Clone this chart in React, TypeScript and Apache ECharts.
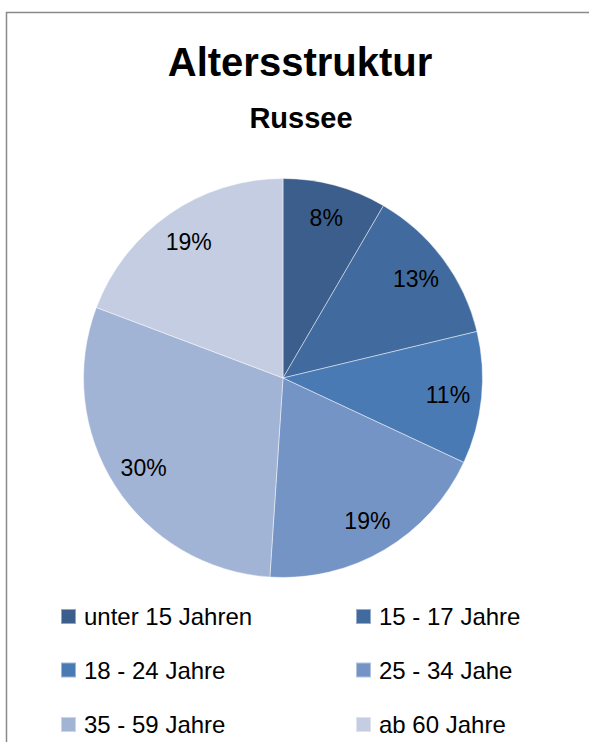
import React, { useEffect, useRef } from "react";
import * as echarts from "echarts";

const titleText = "Altersstruktur";
const subtitleText = "Russee";
const categories = [
  "unter 15 Jahren",
  "15 - 17 Jahre",
  "18 - 24 Jahre",
  "25 - 34 Jahe",
  "35 - 59 Jahre",
  "ab 60 Jahre",
];
const values = [8.4, 12.85, 10.7, 19.1, 29.7, 19.25];
const colors = ["#3B5E8C", "#416B9E", "#4A7AB4", "#7594C6", "#A2B4D5", "#C4CDE2"];

const FONT = '"Liberation Sans", Arial, sans-serif';

export default function App() {
  const ref = useRef<HTMLDivElement>(null);
  useEffect(() => {
    if (!ref.current) return;
    const chart = echarts.init(ref.current, undefined, { renderer: "svg" });
    const data = categories.map((name, i) => ({
      name,
      value: values[i],
      itemStyle: { color: colors[i] },
    }));
    const colLeft = [60, 355];
    const rowCenter = [616.5, 670, 724.5];
    const legends = categories.map((name, i) => ({
      orient: "horizontal" as const,
      left: colLeft[i % 2],
      top: rowCenter[Math.floor(i / 2)] - 12,
      padding: 0,
      itemWidth: 15,
      itemHeight: 15,
      icon: "rect",
      selectedMode: false,
      data: [name],
      textStyle: {
        fontFamily: FONT,
        fontSize: 24,
        color: "#000",
        lineHeight: 24,
        padding: [0, 0, 0, 3],
      },
    }));
    chart.setOption({
      animation: false,
      backgroundColor: "#fff",
      graphic: [
        {
          type: "rect",
          shape: { x: 6.5, y: 12.5, width: 800, height: 900 },
          style: { fill: "none", stroke: "#8a8a8a", lineWidth: 1.5 },
          silent: true,
        },
        {
          type: "text",
          x: 300,
          y: 62,
          style: {
            text: titleText,
            font: `bold 40px ${FONT}`,
            textAlign: "center",
            textVerticalAlign: "middle",
            align: "center",
            verticalAlign: "middle",
            fill: "#000",
          },
        },
        {
          type: "text",
          x: 301,
          y: 117.5,
          style: {
            text: subtitleText,
            font: `bold 29px ${FONT}`,
            textAlign: "center",
            textVerticalAlign: "middle",
            align: "center",
            verticalAlign: "middle",
            fill: "#000",
          },
        },
      ],
      legend: legends,
      series: [
        {
          type: "pie",
          center: [283, 378],
          radius: [0, 199.5],
          startAngle: 90,
          clockwise: true,
          data,
          label: { show: false },
          labelLine: { show: false },
          itemStyle: { borderColor: "rgba(255,255,255,0.45)", borderWidth: 1 },
          emphasis: { disabled: true },
          silent: true,
        },
        {
          type: "pie",
          center: [283, 378],
          radius: [126, 199.5],
          startAngle: 90,
          clockwise: true,
          percentPrecision: 0,
          data: categories.map((name, i) => ({ name, value: values[i] })),
          itemStyle: { color: "rgba(0,0,0,0)", borderWidth: 0 },
          label: {
            show: true,
            position: "inside",
            formatter: "{d}%",
            fontFamily: FONT,
            fontSize: 23,
            color: "#000",
          },
          labelLine: { show: false },
          emphasis: { disabled: true },
          silent: true,
          legendHoverLink: false,
        },
      ],
    });
    return () => chart.dispose();
  }, []);
  return (
    <div
      ref={ref}
      style={{ position: "absolute", left: 0, top: 0, width: 589, height: 742 }}
    />
  );
}
